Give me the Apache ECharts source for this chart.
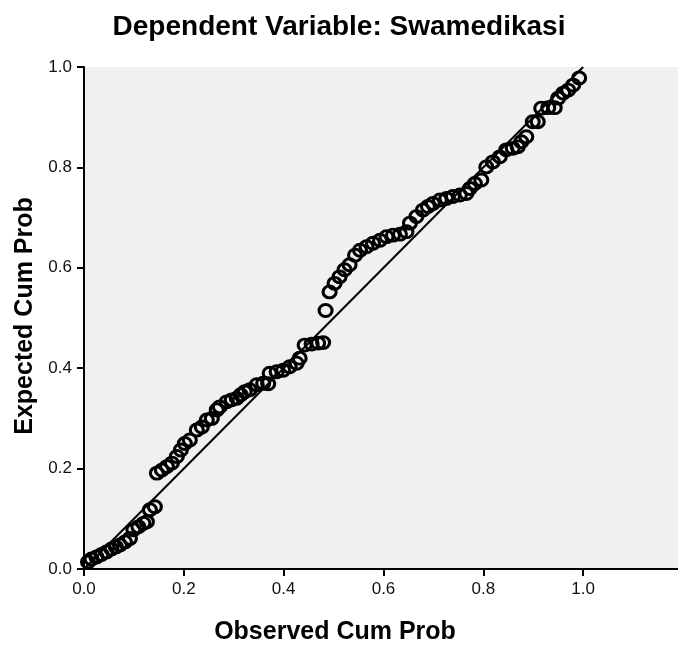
<!DOCTYPE html>
<html>
<head>
<meta charset="utf-8">
<script src="https://cdn.jsdelivr.net/npm/echarts@6/dist/echarts.min.js"></script>
<style>
html,body{margin:0;padding:0;background:#fff;}
#chart{width:678px;height:648px;}
</style>
</head>
<body>
<div id="chart"></div>
<script>
var chartTitle = 'Dependent Variable: Swamedikasi';
var xAxisTitle = 'Observed Cum Prob';
var yAxisTitle = 'Expected Cum Prob';
var tickValues = [0.0, 0.2, 0.4, 0.6, 0.8, 1.0];

var observedCumProb = [
  0.008, 0.015, 0.025, 0.035, 0.045, 0.055, 0.064, 0.072, 0.082, 0.092,
  0.099, 0.109, 0.119, 0.126, 0.132, 0.142, 0.146, 0.156, 0.166, 0.176,
  0.186, 0.194, 0.202, 0.212, 0.226, 0.236, 0.246, 0.256, 0.266, 0.272,
  0.286, 0.296, 0.306, 0.314, 0.322, 0.332, 0.346, 0.359, 0.369, 0.372,
  0.386, 0.399, 0.412, 0.426, 0.432, 0.442, 0.456, 0.469, 0.479, 0.484,
  0.492, 0.502, 0.512, 0.522, 0.532, 0.543, 0.553, 0.566, 0.579, 0.593,
  0.606, 0.619, 0.633, 0.646, 0.653, 0.666, 0.679, 0.689, 0.699, 0.713,
  0.726, 0.739, 0.753, 0.766, 0.773, 0.783, 0.796, 0.806, 0.819, 0.833,
  0.846, 0.859, 0.869, 0.876, 0.886, 0.899, 0.909, 0.916, 0.930, 0.943,
  0.950, 0.960, 0.970, 0.980, 0.992
];
var expectedCumProb = [
  0.014, 0.020, 0.024, 0.029, 0.034, 0.040, 0.044, 0.048, 0.054, 0.061,
  0.078, 0.084, 0.091, 0.094, 0.118, 0.124, 0.191, 0.197, 0.204, 0.211,
  0.224, 0.237, 0.250, 0.257, 0.277, 0.283, 0.297, 0.300, 0.317, 0.323,
  0.333, 0.337, 0.340, 0.347, 0.353, 0.357, 0.367, 0.370, 0.369, 0.390,
  0.393, 0.396, 0.403, 0.410, 0.420, 0.446, 0.448, 0.450, 0.451, 0.515,
  0.552, 0.569, 0.582, 0.596, 0.606, 0.625, 0.635, 0.642, 0.649, 0.655,
  0.662, 0.665, 0.667, 0.672, 0.689, 0.702, 0.715, 0.722, 0.728, 0.735,
  0.738, 0.742, 0.745, 0.748, 0.758, 0.768, 0.775, 0.801, 0.811, 0.821,
  0.835, 0.838, 0.841, 0.851, 0.861, 0.891, 0.891, 0.918, 0.919, 0.919,
  0.938, 0.948, 0.954, 0.964, 0.978
];
var referenceLine = [[0, 0], [1, 1]];

var points = observedCumProb.map(function (x, i) { return [x, expectedCumProb[i]]; });

var FONT = 'Liberation Sans, Arial, sans-serif';
var chart = echarts.init(document.getElementById('chart'), null, {renderer: 'canvas'});
var fmt = function (v) { return Math.abs(v * 5 - Math.round(v * 5)) < 1e-6 && v <= 1.0001 ? v.toFixed(1) : ''; };

chart.setOption({
  backgroundColor: '#ffffff',
  animation: false,
  title: {
    text: chartTitle,
    left: 'center',
    top: 8,
    textStyle: {fontFamily: FONT, fontSize: 28, fontWeight: 'bold', color: '#000'}
  },
  grid: {left: 84, top: 67, right: 0, bottom: 79, show: true, backgroundColor: '#f0f0f0', borderWidth: 0},
  xAxis: [{
    type: 'value', min: 0, max: 1.19, interval: 0.2,
    axisLine: {show: true, onZero: false, lineStyle: {color: '#000', width: 2}},
    axisTick: {show: true, length: 7, lineStyle: {color: '#000', width: 2}},
    axisLabel: {showMaxLabel: false, margin: 12, fontFamily: FONT, fontSize: 17, color: '#111', formatter: fmt},
    splitLine: {show: false}
  }, {
    type: 'value', position: 'top', min: 0, max: 1.19,
    axisLine: {show: true, lineStyle: {color: '#000', width: 2}},
    axisTick: {show: false}, axisLabel: {show: false}, splitLine: {show: false}
  }],
  yAxis: {
    type: 'value', min: 0, max: 1, interval: 0.2,
    axisLine: {show: true, onZero: false, lineStyle: {color: '#000', width: 2}},
    axisTick: {show: true, length: 7, lineStyle: {color: '#000', width: 2}},
    axisLabel: {margin: 12, fontFamily: FONT, fontSize: 17, color: '#111', formatter: function (v) { return v.toFixed(1); }},
    splitLine: {show: false}
  },
  graphic: [
    {type: 'text', x: 335, y: 632, style: {text: xAxisTitle, fontFamily: FONT, fontSize: 25, fontWeight: 'bold', fill: '#000', align: 'center', verticalAlign: 'middle'}},
    {type: 'text', x: 25, y: 316, rotation: Math.PI / 2, style: {text: yAxisTitle, fontFamily: FONT, fontSize: 25, fontWeight: 'bold', fill: '#000', align: 'center', verticalAlign: 'middle'}}
  ],
  series: [
    {
      type: 'line', data: referenceLine, showSymbol: false, symbol: 'none',
      lineStyle: {color: '#000', width: 2}, z: 2, silent: true
    },
    {
      type: 'scatter', data: points, symbol: 'circle', symbolSize: [13, 12],
      itemStyle: {color: 'rgba(0,0,0,0)', borderColor: '#000', borderWidth: 3, opacity: 1},
      z: 3, silent: true
    }
  ]
});
</script>
</body>
</html>
